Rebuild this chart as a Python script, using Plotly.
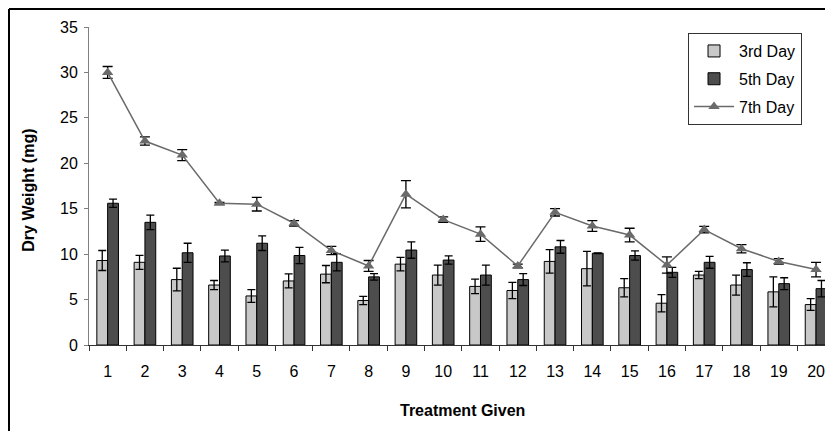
import plotly.graph_objects as go

treatments = [str(i) for i in range(1, 21)]

day3 = [9.3, 9.1, 7.2, 6.6, 5.4, 7.05, 7.8, 4.9, 8.9, 7.7,
        6.45, 6.0, 9.2, 8.4, 6.3, 4.6, 7.7, 6.6, 5.85, 4.45]
day3_err = [1.1, 0.77, 1.25, 0.5, 0.7, 0.77, 0.95, 0.45, 0.75, 1.1,
            0.8, 0.9, 1.3, 1.9, 1.0, 0.95, 0.4, 1.1, 1.65, 0.65]

day5 = [15.6, 13.5, 10.15, 9.8, 11.2, 9.85, 9.1, 7.5, 10.45, 9.35,
        7.7, 7.2, 10.8, 10.1, 9.85, 8.0, 9.1, 8.3, 6.75, 6.2]
day5_err = [0.45, 0.8, 1.05, 0.65, 0.8, 0.9, 0.95, 0.35, 0.9, 0.45,
            1.1, 0.65, 0.7, 0.05, 0.5, 0.55, 0.65, 0.75, 0.65, 0.9]

day7 = [30.0, 22.45, 20.9, 15.6, 15.5, 13.4, 10.4, 8.7, 16.6, 13.8,
        12.2, 8.7, 14.6, 13.1, 12.1, 8.8, 12.7, 10.6, 9.2, 8.3]
day7_err = [0.65, 0.45, 0.6, 0.1, 0.75, 0.3, 0.45, 0.6, 1.5, 0.3,
            0.8, 0.2, 0.4, 0.6, 0.75, 0.9, 0.35, 0.45, 0.3, 0.8]

FONT = "Liberation Sans, Arial, sans-serif"

fig = go.Figure()
fig.add_trace(go.Bar(
    x=treatments, y=day3, name="3rd Day", legendgroup="a",
    marker=dict(color="#C8C8C8", line=dict(color="black", width=1)),
    error_y=dict(type="data", array=day3_err, color="black", thickness=1.3, width=4),
))
fig.add_trace(go.Bar(
    x=treatments, y=day5, name="5th Day", legendgroup="b",
    marker=dict(color="#4D4D4D", line=dict(color="black", width=1)),
    error_y=dict(type="data", array=day5_err, color="black", thickness=1.3, width=4),
))
fig.add_trace(go.Scatter(
    x=treatments, y=day7, name="7th Day", legendgroup="c", mode="lines+markers",
    line=dict(color="#6A6A6A", width=1.5),
    marker=dict(symbol="triangle-up", size=10, color="#6A6A6A"),
    error_y=dict(type="data", array=day7_err, color="black", thickness=1.3, width=5),
))

fig.update_layout(
    width=825, height=431,
    margin=dict(l=89, r=0, t=27, b=86),
    plot_bgcolor="white", paper_bgcolor="white",
    barmode="group", bargap=0.42, bargroupgap=0,
    font=dict(family=FONT, size=16, color="black"),
    showlegend=True,
    legend=dict(
        x=0.8139, y=0.981, xanchor="left", yanchor="top",
        bgcolor="white", bordercolor="#333333", borderwidth=1,
        font=dict(family=FONT, size=16, color="black"),
        traceorder="grouped", tracegroupgap=4, itemwidth=40,
    ),
    annotations=[
        dict(text="<b>Treatment Given</b>", xref="paper", yref="paper",
             x=0.507, y=-0.2075, xanchor="center", yanchor="middle",
             showarrow=False, font=dict(family=FONT, size=16, color="black")),
        dict(text="<b>Dry Weight (mg)</b>", xref="paper", yref="paper",
             x=-0.0825, y=0.486, xanchor="center", yanchor="middle", textangle=-90,
             showarrow=False, font=dict(family=FONT, size=16, color="black")),
    ],
    shapes=[
        dict(type="line", xref="paper", yref="paper", x0=-0.1087, x1=1.1, y0=1.0566, y1=1.0566,
             line=dict(color="black", width=2)),
        dict(type="line", xref="paper", yref="paper", x0=-0.1087, x1=-0.1087, y0=1.0566, y1=-0.4,
             line=dict(color="black", width=2)),
    ],
)
fig.update_xaxes(
    type="category", range=[-0.5, 19.24], tickson="boundaries",
    ticks="outside", ticklen=5, tickcolor="#333333",
    showline=True, linecolor="#333333", linewidth=1, showgrid=False,
    ticklabelstandoff=12,
)
fig.update_yaxes(
    range=[0, 35], dtick=5, ticks="outside", ticklen=4, tickcolor="#808080",
    showline=True, linecolor="#808080", linewidth=1, showgrid=False, zeroline=False,
    ticklabelstandoff=3,
)

fig.write_html("out.html", config={"displayModeBar": False},
               post_script="document.body.style.margin='0px';")
